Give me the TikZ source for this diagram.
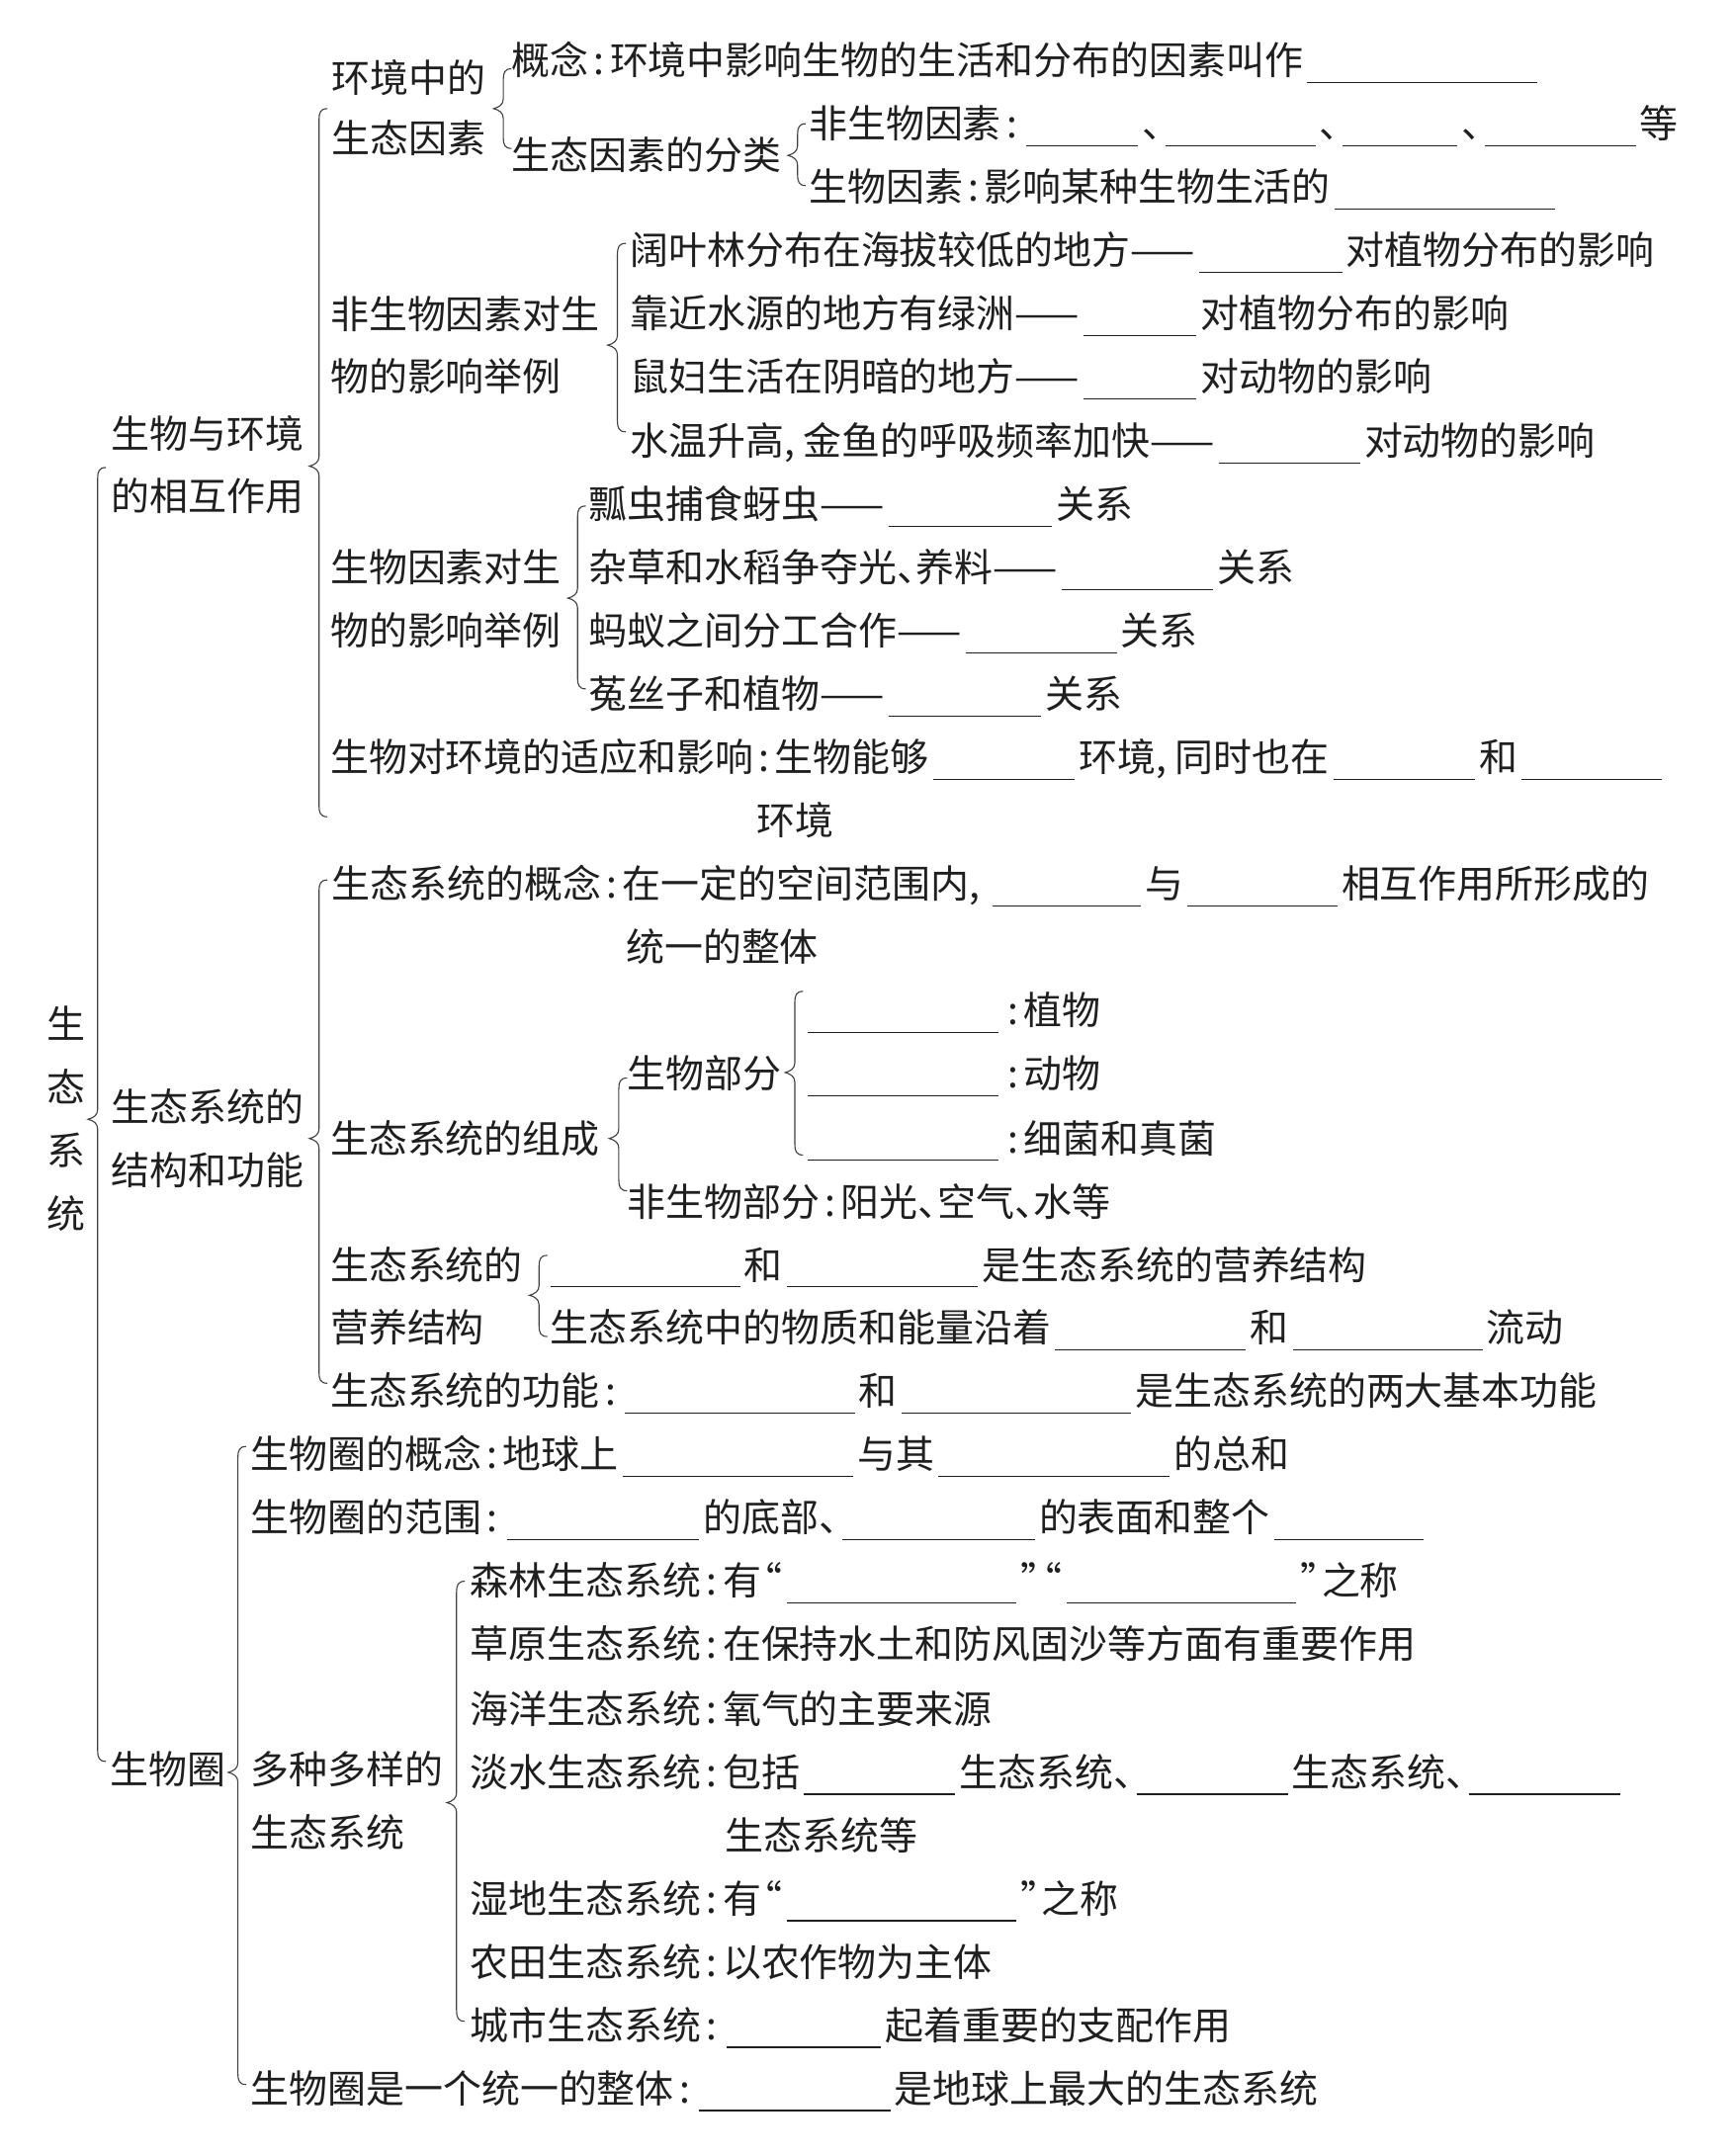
\documentclass[tikz,border=0pt]{standalone}
\usepackage{fontspec}
\newfontfamily\cjk{Noto Sans CJK SC}
\newcommand\myco{\makebox[0.55em][c]{:}}
\newcommand\mycm{\makebox[0.5em][l]{,}}
\newcommand\mydn{\makebox[0.5em][l]{、}}
\newcommand\oq{\makebox[0.55em][r]{“}}
\newcommand\cq{\makebox[0.55em][l]{”}}
\newcommand\bk[1]{\hspace{3pt}\rule[-6pt]{#1pt}{0.9pt}\hspace{3pt}}
\newcommand\cbr[4]{%
\draw[brc] (#1+6,#2) .. controls (#1+1,#2) and (#1,#2+3) .. (#1,#2+8) -- (#1,#3-7)
 .. controls (#1,#3-3) and (#1-3,#3-1) .. (#1-7,#3)
 .. controls (#1-3,#3+1) and (#1,#3+3) .. (#1,#3+7) -- (#1,#4-8)
 .. controls (#1,#4-3) and (#1+1,#4) .. (#1+6,#4);}
\begin{document}
\begin{tikzpicture}[x=1pt,y=-1pt,
  txt/.style={anchor=west,inner sep=0pt,text height=0.88em,text depth=0.12em,yshift=-6.5pt,
    font=\cjk\fontsize{28}{30}\selectfont,text=black!88},
  vch/.style={txt,anchor=center},
  brc/.style={draw=black!75,line width=0.8pt}]
\useasboundingbox (0,0) rectangle (1260,1568);
% level 0
\node[vch] (v1) at (48,745) {生};
\node[vch] (v2) at (48,791) {态};
\node[vch] (v3) at (48,837) {系};
\node[vch] (v4) at (48,883) {统};
\cbr{71}{340}{814}{1281}
% level 1
\node[txt] (a1) at (81,316) {生物与环境};
\node[txt] (a2) at (81,361) {的相互作用};
\node[txt] (b1) at (81,805) {生态系统的};
\node[txt] (b2) at (81,851) {结构和功能};
\node[txt] (c1) at (80,1287) {生物圈};
\cbr{232}{79}{339}{594}
\cbr{232}{640}{828}{1006}
\cbr{173}{1052}{1289}{1516}
% section 1
\node[txt] (e1) at (241,57) {环境中的};
\node[txt] (e2) at (241,101) {生态因素};
\cbr{366}{50}{79}{108}
\node[txt] (r0) at (372,44) {概念\myco 环境中影响生物的生活和分布的因素叫作\bk{167}};
\node[txt] (f1) at (372,113) {生态因素的分类};
\cbr{580}{90}{113}{135}
\node[txt] (r1) at (588,90) {非生物因素\myco\bk{81}\mydn\bk{109}\mydn\bk{83}\mydn\bk{110}等};
\node[txt] (r2) at (588,136) {生物因素\myco 影响某种生物生活的\bk{160}};
\node[txt] (g1) at (240,229) {非生物因素对生};
\node[txt] (g2) at (240,274) {物的影响举例};
\cbr{449}{177}{251}{314}
\node[txt] (r3) at (458,182) {阔叶林分布在海拔较低的地方——\bk{104}对植物分布的影响};
\node[txt] (r4) at (458,228) {靠近水源的地方有绿洲——\bk{82}对植物分布的影响};
\node[txt] (r5) at (458,274) {鼠妇生活在阴暗的地方——\bk{82}对动物的影响};
\node[txt] (r6) at (458,321) {水温升高\mycm 金鱼的呼吸频率加快——\bk{103}对动物的影响};
\node[txt] (h1) at (240,413) {生物因素对生};
\node[txt] (h2) at (240,459) {物的影响举例};
\cbr{420}{368}{435}{501}
\node[txt] (r7) at (428,367) {瓢虫捕食蚜虫——\bk{119}关系};
\node[txt] (r8) at (428,413) {杂草和水稻争夺光\mydn 养料——\bk{110}关系};
\node[txt] (r9) at (428,459) {蚂蚁之间分工合作——\bk{110}关系};
\node[txt] (r10) at (428,505) {菟丝子和植物——\bk{111}关系};
\node[txt] (r11) at (240,551) {生物对环境的适应和影响\myco 生物能够\bk{103}环境\mycm 同时也在\bk{103}和\bk{102}};
\node[txt] (r12) at (550,597) {环境};
% section 2
\node[txt] (r13) at (241,643) {生态系统的概念\myco 在一定的空间范围内\mycm\bk{108}与\bk{109}相互作用所形成的};
\node[txt] (r14) at (455,689) {统一的整体};
\node[txt] (k1) at (240,828) {生态系统的组成};
\cbr{450}{784}{828}{866}
\node[txt] (k2) at (456,781) {生物部分};
\cbr{578}{721}{780}{840}
\node[txt] (r15) at (584,735) {\bk{139}\myco 植物};
\node[txt] (r16) at (584,781) {\bk{139}\myco 动物};
\node[txt] (r17) at (584,828) {\bk{139}\myco 细菌和真菌};
\node[txt] (r18) at (456,874) {非生物部分\myco 阳光\mydn 空气\mydn 水等};
\node[txt] (m1) at (240,920) {生态系统的};
\node[txt] (m2) at (240,966) {营养结构};
\cbr{392}{913}{942}{972}
\node[txt] (r19) at (397,920) {\bk{138}和\bk{139}是生态系统的营养结构};
\node[txt] (r20) at (400,966) {生态系统中的物质和能量沿着\bk{139}和\bk{138}流动};
\node[txt] (r21) at (240,1012) {生态系统的功能\myco\bk{167}和\bk{167}是生态系统的两大基本功能};
% section 3
\node[txt] (r22) at (182,1058) {生物圈的概念\myco 地球上\bk{168}与其\bk{168}的总和};
\node[txt] (r23) at (182,1104) {生物圈的范围\myco\bk{140}的底部\mydn\bk{140}的表面和整个\bk{109}};
\node[txt] (n1) at (182,1287) {多种多样的};
\node[txt] (n2) at (182,1333) {生态系统};
\cbr{332}{1150}{1311}{1470}
\node[txt] (r24) at (342,1150) {森林生态系统\myco 有\oq\bk{167}\cq\oq\bk{167}\cq 之称};
\node[txt] (r25) at (342,1196) {草原生态系统\myco 在保持水土和防风固沙等方面有重要作用};
\node[txt] (r26) at (342,1243) {海洋生态系统\myco 氧气的主要来源};
\node[txt] (r27) at (342,1289) {淡水生态系统\myco 包括\bk{110}生态系统\mydn\bk{110}生态系统\mydn\bk{110}};
\node[txt] (r28) at (527,1335) {生态系统等};
\node[txt] (r29) at (342,1381) {湿地生态系统\myco 有\oq\bk{167}\cq 之称};
\node[txt] (r30) at (342,1427) {农田生态系统\myco 以农作物为主体};
\node[txt] (r31) at (342,1473) {城市生态系统\myco\bk{112}起着重要的支配作用};
\node[txt] (r32) at (182,1519) {生物圈是一个统一的整体\myco\bk{139}是地球上最大的生态系统};
\end{tikzpicture}
\end{document}
